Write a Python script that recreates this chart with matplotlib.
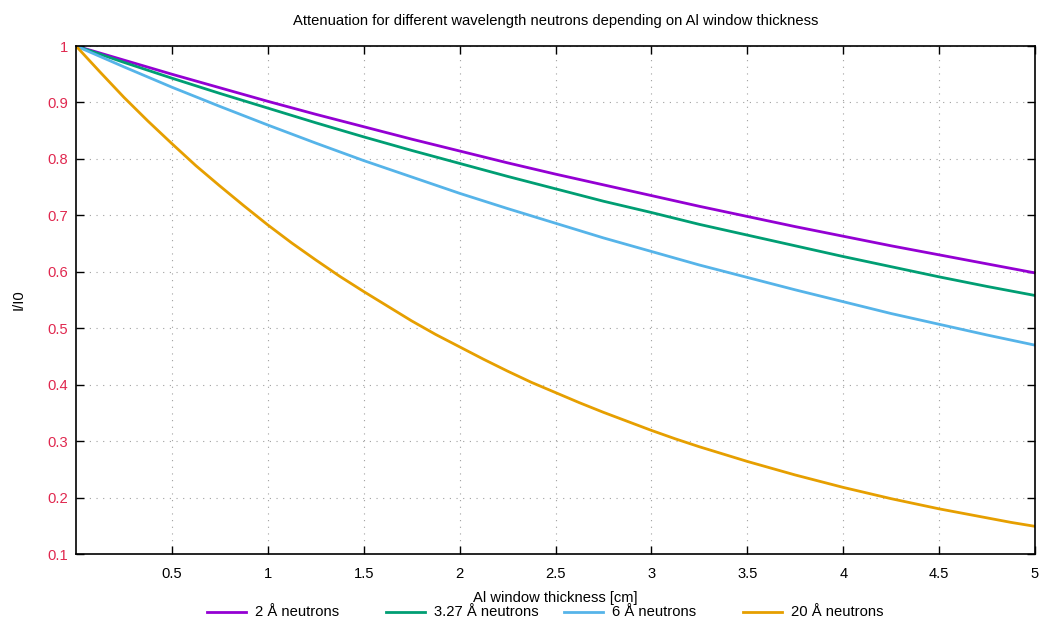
import matplotlib
matplotlib.use("Agg")
import matplotlib.pyplot as plt
from matplotlib.lines import Line2D

plt.rcParams['font.family'] = ['Liberation Sans', 'DejaVu Sans']
plt.rcParams['font.size'] = 10.6

thickness = [0.00, 0.25, 0.50, 0.75, 1.00, 1.25, 1.50, 1.75, 2.00, 2.25, 2.50,
             2.75, 3.00, 3.25, 3.50, 3.75, 4.00, 4.25, 4.50, 4.75, 5.00]
att_2A = [1.000, 0.975, 0.950, 0.926, 0.902, 0.879, 0.857, 0.835, 0.814, 0.793, 0.773,
          0.754, 0.735, 0.716, 0.698, 0.680, 0.663, 0.646, 0.630, 0.614, 0.598]
att_327A = [1.000, 0.971, 0.943, 0.916, 0.890, 0.864, 0.839, 0.815, 0.792, 0.769, 0.747,
            0.725, 0.705, 0.684, 0.665, 0.646, 0.627, 0.609, 0.591, 0.574, 0.558]
att_6A = [1.000, 0.963, 0.927, 0.893, 0.860, 0.828, 0.797, 0.768, 0.739, 0.712, 0.686,
          0.660, 0.636, 0.612, 0.590, 0.568, 0.547, 0.526, 0.507, 0.488, 0.470]
thickness_fine = [0.000, 0.125, 0.250, 0.375, 0.500, 0.625, 0.750, 0.875, 1.000, 1.125,
                  1.250, 1.375, 1.500, 1.625, 1.750, 1.875, 2.000, 2.125, 2.250, 2.375,
                  2.500, 2.625, 2.750, 2.875, 3.000, 3.125, 3.250, 3.375, 3.500, 3.625,
                  3.750, 3.875, 4.000, 4.125, 4.250, 4.375, 4.500, 4.625, 4.750, 4.875,
                  5.000]
att_20A = [1.000, 0.954, 0.909, 0.867, 0.827, 0.788, 0.752, 0.717, 0.683, 0.651,
           0.621, 0.592, 0.565, 0.539, 0.513, 0.489, 0.467, 0.445, 0.424, 0.404,
           0.386, 0.368, 0.351, 0.335, 0.319, 0.304, 0.290, 0.277, 0.264, 0.252,
           0.240, 0.229, 0.218, 0.208, 0.198, 0.189, 0.180, 0.172, 0.164, 0.156,
           0.149]
labels = ['2 Å neutrons', '3.27 Å neutrons', '6 Å neutrons', '20 Å neutrons']
xs = [thickness, thickness, thickness, thickness_fine]
series = [att_2A, att_327A, att_6A, att_20A]
colors = ['#9400d3', '#009e73', '#56b4e9', '#e69f00']
xticks = [0.5, 1, 1.5, 2, 2.5, 3, 3.5, 4, 4.5, 5]
yticks = [0.1, 0.2, 0.3, 0.4, 0.5, 0.6, 0.7, 0.8, 0.9, 1.0]

W, H = 1040, 620
fig = plt.figure(figsize=(W / 100, H / 100), dpi=100)
L, R, T, B = 76, 1035, 46, 554
ax = fig.add_axes([L / W, 1 - B / H, (R - L) / W, (B - T) / H])

for x, y, c in zip(xs, series, colors):
    ax.plot(x, y, color=c, lw=2.0, solid_joinstyle='round')

ax.set_xlim(0, 5)
ax.set_ylim(0.1, 1.0)
ax.set_xticks(xticks)
ax.set_xticklabels([f'{v:g}' for v in xticks])
ax.set_yticks(yticks)
ax.set_yticklabels([f'{v:g}' for v in yticks])
ax.tick_params(direction='in', top=True, right=True, length=6, width=1, pad=9)
ax.tick_params(axis='y', labelcolor='#e0284f', pad=6)
for sp in ax.spines.values():
    sp.set_linewidth(1.2)
ax.grid(True, color='#a0a0a0', linestyle=(0, (1, 5)), linewidth=0.8)

ax.set_xlabel('Al window thickness [cm]')
ax.set_ylabel('I/I0')
ax.xaxis.set_label_coords(0.5, -0.073)
ax.yaxis.set_label_coords(-0.060, 0.5)
ax.yaxis.label.set_va('center')
ax.set_title('Attenuation for different wavelength neutrons depending on Al window thickness',
             fontsize=10.6, pad=15)

# legend entries, gnuplot-style horizontal key
for i, (lab, c) in enumerate(zip(labels, colors)):
    x0 = 207 + 178.7 * i
    yk = 1 - 612 / H
    fig.add_artist(Line2D([x0 / W, (x0 + 39) / W], [yk, yk], color=c, lw=2.0,
                          transform=fig.transFigure))
    fig.text((x0 + 48) / W, yk, lab, va='center', ha='left')

fig.savefig('out.png', dpi=100)
